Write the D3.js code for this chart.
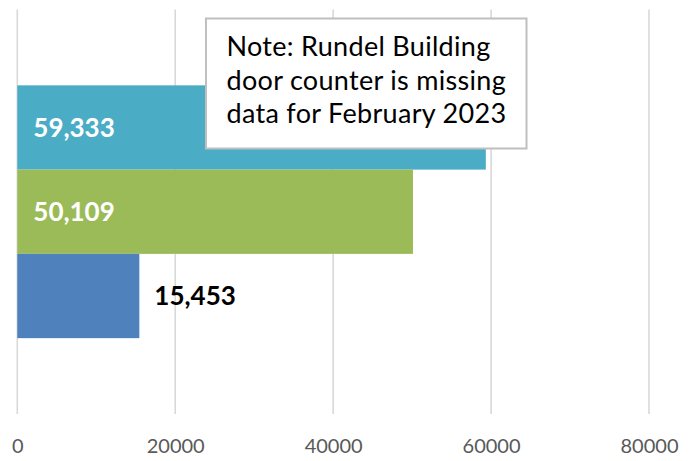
<!DOCTYPE html>
<html>
<head>
<meta charset="utf-8">
<script src="https://cdn.jsdelivr.net/npm/d3@7/dist/d3.min.js"></script>
<style>
  html, body { margin: 0; padding: 0; background: #fff; }
  svg { display: block; font-family: Lato, "Open Sans", sans-serif; }
</style>
</head>
<body>
<svg id="chart" width="698" height="461"></svg>
<script>
// ---- data ----
const categories = ["Door count"];
const seriesNames = ["Series 3", "Series 2", "Series 1"];   // top to bottom
const seriesValues = [59333, 50109, 15453];
const seriesColors = ["#4BACC6", "#9BBB59", "#4F81BD"];
const labelPlacement = ["base", "base", "end"];
const xTicks = [0, 20000, 40000, 60000, 80000];
const noteLines = ["Note: Rundel Building", "door counter is missing", "data for February 2023"];

// ---- layout ----
const svg = d3.select("#chart");
const plot = { left: 17.3, right: 649, top: 9.5, bottom: 414 };

const x = d3.scaleLinear().domain([0, 80000]).range([plot.left, plot.right]);
const y0 = d3.scaleBand().domain(categories).range([plot.top, plot.bottom])
  .paddingInner(0).paddingOuter(0.3);
const y1 = d3.scaleBand().domain(seriesNames).range([0, y0.bandwidth()]).padding(0);

// gridlines
svg.append("g").selectAll("line").data(xTicks).join("line")
  .attr("x1", d => x(d)).attr("x2", d => x(d))
  .attr("y1", plot.top).attr("y2", plot.bottom)
  .attr("stroke", "#D9D9D9").attr("stroke-width", 1.6);

// x axis labels
const xAxis = d3.axisBottom(x).tickValues(xTicks).tickFormat(d3.format("d")).tickSize(0).tickPadding(0);
const ax = svg.append("g").attr("transform", `translate(0,${plot.bottom})`).call(xAxis);
ax.select(".domain").remove();
ax.selectAll("text").attr("y", 39).attr("dy", 0)
  .attr("font-family", "Lato, sans-serif").attr("font-size", 20).attr("fill", "#595959");

// bars
const data = seriesNames.map((s, i) => ({ s, v: seriesValues[i], c: seriesColors[i], p: labelPlacement[i] }));
const g = svg.append("g").attr("transform", `translate(0,${y0(categories[0])})`);
g.selectAll("rect").data(data).join("rect")
  .attr("x", x(0)).attr("y", d => y1(d.s))
  .attr("width", d => x(d.v) - x(0)).attr("height", y1.bandwidth())
  .attr("fill", d => d.c);

const fmt = d3.format(",");
g.selectAll("text.lbl").data(data).join("text").attr("class", "lbl")
  .attr("x", d => d.p === "base" ? x(0) + 16 : x(d.v) + 15)
  .attr("y", d => y1(d.s) + y1.bandwidth() / 2)
  .attr("dy", "0.36em")
  .attr("font-size", 26).attr("font-weight", 700)
  .attr("fill", d => d.p === "base" ? "#FFFFFF" : "#000000")
  .text(d => fmt(d.v));

// note box
const note = svg.append("g");
note.append("rect").attr("x", 206).attr("y", 18.5).attr("width", 320.5).attr("height", 130)
  .attr("fill", "#fff").attr("stroke", "#BFBFBF").attr("stroke-width", 2);
note.selectAll("text").data(noteLines).join("text")
  .attr("x", 226.5).attr("y", (d, i) => 56 + i * 33.5)
  .attr("font-size", 27).attr("letter-spacing", 0.3).attr("fill", "#000")
  .text(d => d);
</script>
</body>
</html>
